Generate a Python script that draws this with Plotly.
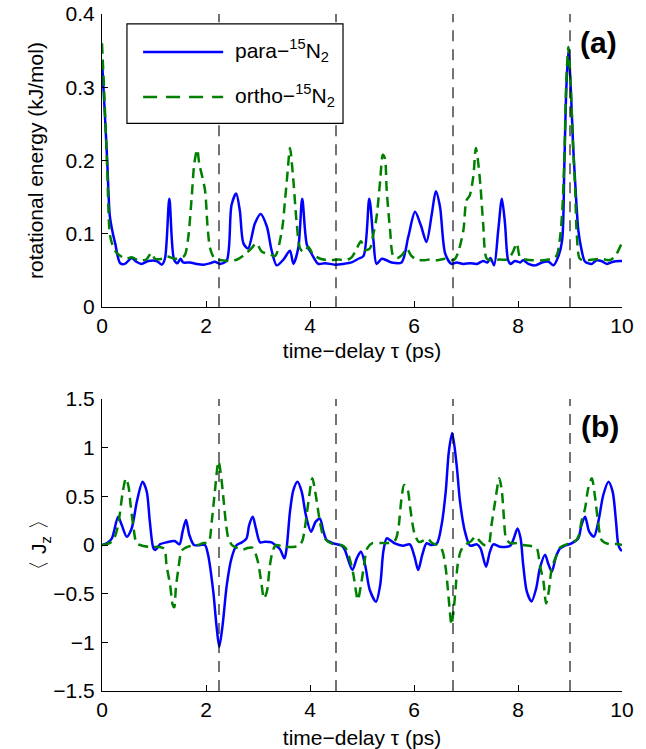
import plotly.graph_objects as go

# ---------------- data ----------------
# panel (a): rotational energy (kJ/mol) vs time-delay (ps)
t_para_E = [0, 0.05, 0.1, 0.15, 0.21, 0.26, 0.3, 0.35, 0.44, 0.57, 0.66, 0.76, 0.89, 1.05, 1.15, 1.21,
            1.295, 1.385, 1.45, 1.51, 1.56, 1.69, 1.82, 1.95, 2.08, 2.17, 2.27, 2.40, 2.49, 2.58, 2.65,
            2.72, 2.81, 2.94, 3.05, 3.17, 3.26, 3.36, 3.49, 3.615, 3.68, 3.775, 3.85, 3.94, 4.03, 4.16,
            4.29, 4.48, 4.64, 4.80, 4.93, 5.03, 5.14, 5.22, 5.28, 5.38, 5.47, 5.57, 5.76, 5.89, 6.02,
            6.13, 6.24, 6.34, 6.42, 6.50, 6.60, 6.72, 6.82, 6.95, 7.08, 7.21, 7.33, 7.41, 7.47, 7.54,
            7.62, 7.69, 7.75, 7.81, 7.86, 7.94, 8.04, 8.10, 8.20, 8.33, 8.46, 8.59, 8.68, 8.78, 8.85,
            8.89, 8.93, 8.97, 9.02, 9.06, 9.10, 9.16, 9.22, 9.29, 9.42, 9.51, 9.60, 9.71, 9.83, 9.96, 10.0]
para_E = [0.337, 0.27, 0.2, 0.125, 0.1, 0.085, 0.07, 0.060, 0.059, 0.067, 0.062, 0.059, 0.063, 0.063, 0.058, 0.066,
          0.148, 0.065, 0.060, 0.066, 0.061, 0.061, 0.059, 0.058, 0.060, 0.062, 0.059, 0.064, 0.139, 0.155, 0.132,
          0.087, 0.080, 0.114, 0.127, 0.110, 0.078, 0.057, 0.065, 0.077, 0.059, 0.081, 0.148, 0.085, 0.073, 0.059,
          0.060, 0.058, 0.059, 0.061, 0.066, 0.070, 0.148, 0.091, 0.059, 0.066, 0.064, 0.061, 0.061, 0.096, 0.130,
          0.112, 0.089, 0.126, 0.158, 0.137, 0.073, 0.059, 0.061, 0.059, 0.060, 0.059, 0.063, 0.061, 0.067, 0.057,
          0.105, 0.148, 0.114, 0.064, 0.059, 0.063, 0.061, 0.064, 0.059, 0.057, 0.061, 0.062, 0.057, 0.070, 0.092,
          0.19, 0.30, 0.351, 0.29, 0.22, 0.17, 0.105, 0.079, 0.062, 0.059, 0.064, 0.063, 0.059, 0.062, 0.063, 0.063]

t_ortho_E = [0, 0.05, 0.1, 0.15, 0.2, 0.27, 0.35, 0.45, 0.57, 0.7, 0.85, 0.95, 1.02, 1.15, 1.25, 1.4, 1.55,
             1.6, 1.66, 1.725, 1.775, 1.83, 1.87, 1.98, 2.03, 2.08, 2.17, 2.3, 2.45, 2.6, 2.75, 2.87, 2.97,
             3.07, 3.23, 3.33, 3.46, 3.52, 3.57, 3.615, 3.68, 3.74, 3.81, 3.88, 3.97, 4.06, 4.2, 4.4, 4.55,
             4.69, 4.8, 4.9, 4.98, 5.06, 5.15, 5.22, 5.28, 5.35, 5.40, 5.44, 5.475, 5.54, 5.6, 5.68, 5.78,
             5.86, 5.95, 6.05, 6.2, 6.3, 6.45, 6.6, 6.7, 6.78, 6.85, 6.95, 7.01, 7.07, 7.14, 7.19, 7.23,
             7.28, 7.33, 7.40, 7.5, 7.65, 7.8, 7.9, 7.975, 8.04, 8.15, 8.3, 8.5, 8.65, 8.74, 8.8, 8.85,
             8.89, 8.93, 8.97, 9.02, 9.06, 9.1, 9.13, 9.19, 9.3, 9.45, 9.6, 9.75, 9.85, 9.9, 10.0]
ortho_E = [0.36, 0.28, 0.19, 0.1, 0.085, 0.075, 0.07, 0.066, 0.068, 0.064, 0.065, 0.074, 0.066, 0.066, 0.069, 0.066, 0.068,
           0.072, 0.096, 0.15, 0.196, 0.215, 0.196, 0.16, 0.11, 0.08, 0.066, 0.064, 0.063, 0.065, 0.072, 0.08, 0.087,
           0.076, 0.072, 0.07, 0.105, 0.146, 0.185, 0.217, 0.173, 0.118, 0.08, 0.075, 0.082, 0.072, 0.066, 0.064, 0.065,
           0.064, 0.068, 0.08, 0.09, 0.078, 0.08, 0.1, 0.123, 0.173, 0.208, 0.203, 0.16, 0.105, 0.07, 0.067, 0.072,
           0.08, 0.07, 0.065, 0.064, 0.065, 0.064, 0.066, 0.064, 0.065, 0.075, 0.105, 0.146, 0.152, 0.178, 0.217, 0.20,
           0.164, 0.114, 0.066, 0.064, 0.065, 0.065, 0.075, 0.087, 0.068, 0.065, 0.064, 0.064, 0.066, 0.07, 0.09, 0.13,
           0.2, 0.31, 0.355, 0.29, 0.22, 0.16, 0.1, 0.066, 0.064, 0.065, 0.066, 0.064, 0.068, 0.073, 0.088]

# panel (b): <J_z> vs time-delay (ps)
t_para_J = [0, 0.1, 0.19, 0.31, 0.38, 0.475, 0.57, 0.67, 0.78, 0.86, 0.92, 0.99, 1.03, 1.115, 1.24, 1.40, 1.49,
            1.55, 1.615, 1.68, 1.77, 1.9, 1.98, 2.04, 2.14, 2.20, 2.255, 2.32, 2.40, 2.49, 2.59, 2.69, 2.78,
            2.83, 2.90, 2.96, 3.04, 3.13, 3.26, 3.33, 3.42, 3.51, 3.55, 3.615, 3.68, 3.76, 3.84, 3.92, 4.02,
            4.11, 4.19, 4.26, 4.32, 4.45, 4.61, 4.67, 4.815, 4.90, 4.98, 5.06, 5.15, 5.27, 5.35, 5.41, 5.475,
            5.54, 5.63, 5.79, 5.92, 6.01, 6.08, 6.16, 6.24, 6.33, 6.44, 6.53, 6.61, 6.67, 6.735, 6.82, 6.885,
            6.98, 7.08, 7.21, 7.28, 7.385, 7.46, 7.525, 7.65, 7.85, 7.92, 7.99, 8.05, 8.10, 8.17, 8.26, 8.35,
            8.42, 8.52, 8.58, 8.65, 8.73, 8.81, 8.90, 9.03, 9.16, 9.22, 9.29, 9.37, 9.46, 9.545, 9.64, 9.74,
            9.82, 9.885, 9.93, 9.975, 10.0]
para_J = [0.0, 0.02, 0.069, 0.29, 0.205, 0.086, 0.17, 0.445, 0.65, 0.55, 0.24, -0.034, -0.05, 0.007, 0.027, 0.041, 0.007,
          0.137, 0.257, 0.103, 0.0, 0.0, 0.0, -0.10, -0.48, -0.82, -1.045, -0.82, -0.41, -0.137, 0.0, 0.027, 0.069,
          0.205, 0.29, 0.17, 0.027, 0.034, 0.027, 0.0, -0.041, -0.137, -0.034, 0.342, 0.565, 0.65, 0.548, 0.308, 0.137,
          0.24, 0.27, 0.137, 0.05, 0.017, -0.007, -0.05, -0.257, -0.137, -0.068, -0.205, -0.462, -0.582, -0.41, -0.068, 0.069,
          0.05, 0.017, -0.007, 0.007, -0.12, -0.257, -0.10, 0.017, 0.0, 0.017, 0.205, 0.548, 0.96, 1.15, 0.82, 0.445,
          0.137, -0.007, 0.007, -0.034, -0.223, -0.068, 0.007, -0.017, -0.007, 0.069, 0.17, 0.069, -0.205, -0.48, -0.58, -0.445,
          -0.24, -0.10, -0.19, -0.274, -0.12, -0.034, -0.007, 0.017, 0.069, 0.205, 0.29, 0.137, 0.086, 0.24, 0.514, 0.65,
          0.548, 0.24, 0.0, -0.05, -0.06]

t_ortho_J = [0, 0.1, 0.2, 0.27, 0.33, 0.40, 0.46, 0.51, 0.55, 0.60, 0.67, 0.8, 0.95, 1.1, 1.2, 1.24, 1.31, 1.36,
             1.39, 1.42, 1.47, 1.53, 1.6, 1.7, 1.85, 1.95, 2.05, 2.11, 2.17, 2.24, 2.28, 2.33, 2.38, 2.43, 2.5,
             2.6, 2.7, 2.8, 2.9, 2.96, 3.01, 3.07, 3.115, 3.17, 3.23, 3.29, 3.35, 3.5, 3.65, 3.78, 3.85, 3.9,
             3.97, 4.045, 4.1, 4.15, 4.19, 4.26, 4.35, 4.45, 4.6, 4.68, 4.74, 4.83, 4.885, 4.92, 4.98, 5.04,
             5.1, 5.2, 5.35, 5.5, 5.6, 5.65, 5.7, 5.76, 5.81, 5.88, 5.92, 5.975, 6.02, 6.1, 6.2, 6.27, 6.35,
             6.45, 6.52, 6.56, 6.61, 6.65, 6.69, 6.72, 6.76, 6.8, 6.84, 6.9, 6.98, 7.1, 7.18, 7.25, 7.35, 7.43,
             7.49, 7.56, 7.64, 7.69, 7.73, 7.77, 7.85, 8.0, 8.1, 8.25, 8.36, 8.42, 8.49, 8.54, 8.59, 8.65,
             8.73, 8.8, 8.9, 9.0, 9.12, 9.17, 9.22, 9.29, 9.35, 9.42, 9.48, 9.54, 9.61, 9.75, 9.9, 10.0]
ortho_J = [0.0, 0.01, 0.04, 0.12, 0.274, 0.548, 0.685, 0.6, 0.41, 0.205, 0.017, -0.01, -0.02, -0.02, -0.04, -0.205, -0.41, -0.616,
           -0.64, -0.445, -0.24, -0.06, -0.03, -0.01, 0.0, 0.02, 0.03, 0.24, 0.548, 0.86, 0.75, 0.51, 0.24, 0.07, 0.0,
           -0.03, -0.05, -0.03, -0.03, -0.1, -0.2, -0.41, -0.55, -0.48, -0.205, -0.05, 0.0, -0.02, -0.02, -0.01, 0.04, 0.17,
           0.445, 0.685, 0.548, 0.377, 0.24, 0.086, 0.034, 0.01, 0.0, -0.03, -0.10, -0.29, -0.48, -0.565, -0.41, -0.205,
           -0.034, 0.02, 0.02, 0.02, 0.03, 0.06, 0.17, 0.48, 0.617, 0.565, 0.41, 0.205, 0.10, 0.03, 0.05, 0.06, 0.02,
           0.0, -0.03, -0.085, -0.24, -0.445, -0.685, -0.82, -0.68, -0.45, -0.2, -0.06, 0.0, 0.04, 0.09, 0.05, 0.0, 0.0,
           0.205, 0.445, 0.685, 0.55, 0.274, 0.07, 0.02, 0.02, 0.0, -0.01, -0.034, -0.205, -0.377, -0.6, -0.48, -0.24,
           -0.12, -0.03, 0.0, 0.02, 0.05, 0.1, 0.24, 0.377, 0.58, 0.685, 0.5, 0.24, 0.05, 0.01, 0.01, 0.0]

revival_lines = [2.25, 4.5, 6.75, 9.0]
x_ticks = [0, 2, 4, 6, 8, 10]
names = ["para\u2212<sup>15</sup>N<sub>2</sub>", "ortho\u2212<sup>15</sup>N<sub>2</sub>"]

# ---------------- figure ----------------
FONT = "Arial, Liberation Sans, Helvetica, sans-serif"
FS = 21
BLUE = "#0000ff"
GREEN = "#008000"
DASH = "10px,6px"
LW = 2.5

fig = go.Figure()
fig.add_trace(go.Scatter(x=t_para_E, y=para_E, mode="lines", name=names[0],
                         line=dict(color=BLUE, width=LW, shape="spline", smoothing=0.8),
                         xaxis="x", yaxis="y"))
fig.add_trace(go.Scatter(x=t_ortho_E, y=ortho_E, mode="lines", name=names[1],
                         line=dict(color=GREEN, width=LW, dash=DASH, shape="spline", smoothing=0.8),
                         xaxis="x", yaxis="y"))
fig.add_trace(go.Scatter(x=t_para_J, y=para_J, mode="lines", name=names[0],
                         line=dict(color=BLUE, width=LW, shape="spline", smoothing=0.8),
                         xaxis="x2", yaxis="y2"))
fig.add_trace(go.Scatter(x=t_ortho_J, y=ortho_J, mode="lines", name=names[1],
                         line=dict(color=GREEN, width=LW, dash=DASH, shape="spline", smoothing=0.8),
                         xaxis="x2", yaxis="y2"))

shapes = []
for xr, yr in (("x", "y domain"), ("x2", "y2 domain")):
    for v in revival_lines:
        shapes.append(dict(type="line", xref=xr, yref=yr, x0=v, x1=v, y0=0, y1=1,
                           line=dict(color="black", width=1.1, dash="11px,8px"), layer="above"))

# legend box (drawn in the top panel's domain coordinates)
shapes.append(dict(type="rect", xref="x domain", yref="y domain", x0=0.048, x1=0.4635, y0=0.627, y1=0.966,
                   line=dict(color="black", width=1.2), fillcolor="white", layer="above"))
shapes.append(dict(type="line", xref="x domain", yref="y domain", x0=0.079, x1=0.233, y0=0.870, y1=0.870,
                   line=dict(color=BLUE, width=LW), layer="above"))
shapes.append(dict(type="line", xref="x domain", yref="y domain", x0=0.079, x1=0.233, y0=0.717, y1=0.717,
                   line=dict(color=GREEN, width=LW, dash="14px,9px"), layer="above"))

axis_common = dict(showline=True, linecolor="black", linewidth=1, ticks="inside", ticklen=6,
                   tickcolor="black", showgrid=False, zeroline=False, mirror=False, automargin=False,
                   tickfont=dict(family=FONT, size=FS, color="black"))

xtitle = dict(text="time\u2212delay \u03c4 (ps)", font=dict(family=FONT, size=FS, color="black"), standoff=6)

fig.update_layout(
    template="none",
    width=646, height=749,
    margin=dict(l=102, r=24, t=14, b=58),
    paper_bgcolor="white", plot_bgcolor="white",
    font=dict(family=FONT, size=FS, color="black"),
    shapes=shapes,
    showlegend=False,
    xaxis=dict(domain=[0, 1], range=[0, 10], anchor="y", tickvals=x_ticks, title=xtitle, **axis_common),
    yaxis=dict(domain=[0.567, 1], range=[0, 0.4], anchor="x", dtick=0.1, tick0=0, ticklabelstandoff=2,
               title=dict(text="rotational energy (kJ/mol)", font=dict(family=FONT, size=FS, color="black"),
                          standoff=16),
               **axis_common),
    xaxis2=dict(domain=[0, 1], range=[0, 10], anchor="y2", tickvals=x_ticks,
                title=dict(text=xtitle["text"], font=xtitle["font"], standoff=10), **axis_common),
    yaxis2=dict(domain=[0, 0.4313], range=[-1.5, 1.5], anchor="x2", dtick=0.5, tick0=0, ticklabelstandoff=2,
                title=dict(text="\u3008 J<sub>z</sub> \u3009", font=dict(family=FONT, size=FS, color="black"),
                           standoff=0),
                **axis_common),
    annotations=[
        dict(text=names[0], xref="x domain", yref="y domain", x=0.252, y=0.875, xanchor="left",
             yanchor="middle", showarrow=False, font=dict(family=FONT, size=FS, color="black")),
        dict(text=names[1], xref="x domain", yref="y domain", x=0.252, y=0.722, xanchor="left",
             yanchor="middle", showarrow=False, font=dict(family=FONT, size=FS, color="black")),
        dict(text="<b>(a)</b>", xref="paper", yref="paper", x=0.954, y=0.9586, xanchor="center",
             yanchor="middle", showarrow=False, font=dict(family=FONT, size=30, color="black")),
        dict(text="<b>(b)</b>", xref="paper", yref="paper", x=0.958, y=0.39, xanchor="center",
             yanchor="middle", showarrow=False, font=dict(family=FONT, size=30, color="black")),
    ],
)

fig.write_html("out.html", config={"displayModeBar": False},
               post_script="document.body.style.margin='0';")
